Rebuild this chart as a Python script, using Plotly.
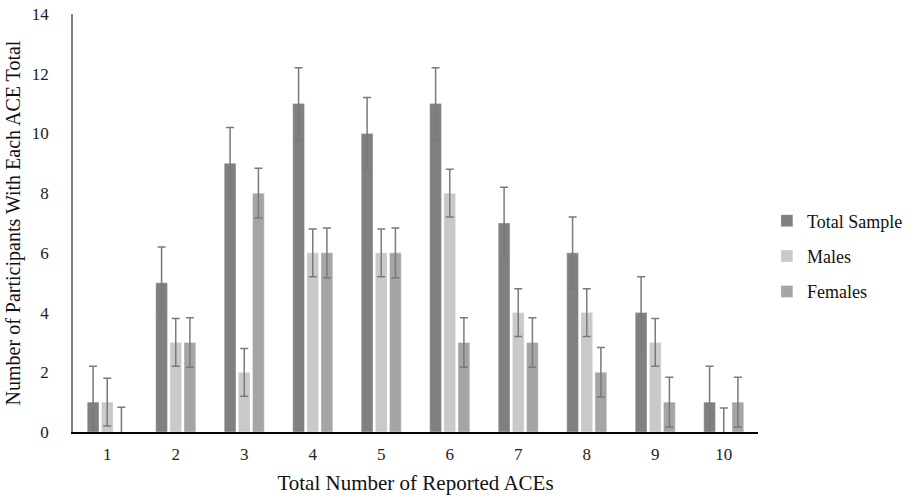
import plotly.graph_objects as go

categories = [1, 2, 3, 4, 5, 6, 7, 8, 9, 10]
total_sample = [1, 5, 9, 11, 10, 11, 7, 6, 4, 1]
males = [1, 3, 2, 6, 6, 8, 4, 4, 3, 0]
females = [0, 3, 8, 6, 6, 3, 3, 2, 1, 1]
err_total = 1.2
err_males = 0.8
err_females = 0.83
y_ticks = [0, 2, 4, 6, 8, 10, 12, 14]

series = [
    ("Total Sample", total_sample, err_total, "#808080"),
    ("Males", males, err_males, "#c9c9c9"),
    ("Females", females, err_females, "#a5a5a5"),
]

fig = go.Figure()
for i, (name, vals, err, col) in enumerate(series):
    fig.add_trace(go.Bar(
        x=categories, y=vals, name=name, legendgroup=name,
        marker=dict(color=col, line=dict(color="rgba(255,255,255,0.6)", width=0.6)),
        error_y=dict(type="constant", value=err, symmetric=True,
                     color="#7a7a7a", thickness=1.5, width=4),
    ))

font_fam = "Liberation Serif"
fig.update_layout(
    width=920, height=498,
    margin=dict(l=70, r=157, t=14, b=66),
    paper_bgcolor="white", plot_bgcolor="white",
    barmode="group", bargap=0.38, bargroupgap=0.17,
    font=dict(family=font_fam, color="#222222", size=17),
    showlegend=True,
    legend=dict(x=1.013, xanchor="left", y=0.42, yanchor="middle",
                font=dict(family=font_fam, size=18, color="#111111"),
                tracegroupgap=9, traceorder="grouped",
                bgcolor="rgba(0,0,0,0)"),
    xaxis=dict(
        range=[0.5, 10.5], tickmode="array", tickvals=categories,
        ticktext=[str(c) for c in categories],
        showline=True, linecolor="#000000", linewidth=1.5,
        ticks="outside", ticklen=6, tickcolor="rgba(0,0,0,0)",
        showgrid=False, zeroline=False, automargin=False,
        tickfont=dict(size=17, family=font_fam, color="#222222"),
        title=dict(text="Total Number of Reported ACEs", standoff=12,
                   font=dict(size=21, family=font_fam, color="#111111")),
    ),
    yaxis=dict(
        range=[0, 14], tickmode="array", tickvals=y_ticks,
        showline=True, linecolor="#808080", linewidth=1.5,
        ticks="outside", ticklen=19, tickcolor="rgba(0,0,0,0)",
        showgrid=False, zeroline=False, automargin="left",
        ticklabeloverflow="allow",
        tickfont=dict(size=17, family=font_fam, color="#222222"),
        title=dict(text="Number of Participants With Each ACE Total", standoff=6,
                   font=dict(size=20, family=font_fam, color="#111111")),
    ),
)

fig.write_html("out.html", config={"displayModeBar": False},
               post_script="document.body.style.margin='0px';")
